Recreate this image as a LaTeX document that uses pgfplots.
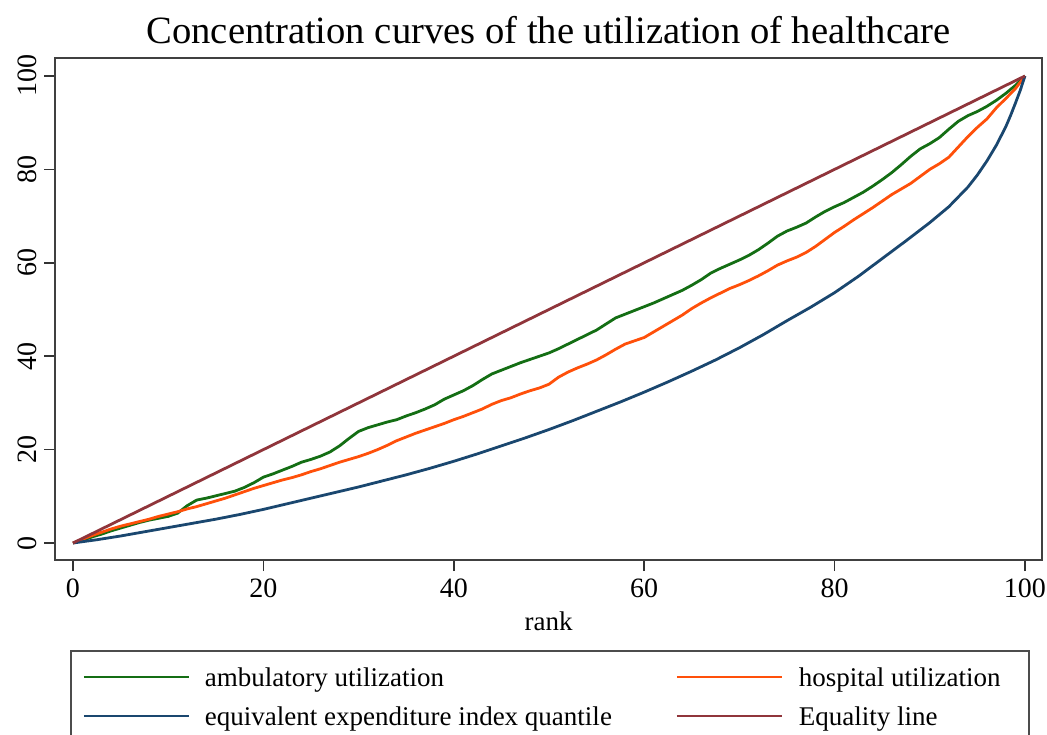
\documentclass[border=0pt]{standalone}
\usepackage{fontspec}
\setmainfont{Liberation Serif}
\usepackage{pgfplots}
\pgfplotsset{compat=1.18}

\definecolor{ambgreen}{RGB}{20,110,20}
\definecolor{hosporange}{RGB}{255,80,10}
\definecolor{statanavy}{RGB}{26,71,111}
\definecolor{statamaroon}{RGB}{144,53,59}

\begin{document}
\begin{tikzpicture}
\begin{axis}[
    width=493.5pt, height=251pt, scale only axis,
    xmin=-1.89, xmax=101.79,
    ymin=-3.64, ymax=103.85,
    axis line style={draw=black!75, line width=1pt},
    tick align=outside, tick pos=left,
    xtick={0,20,...,100}, ytick={0,20,...,100},
    major tick length=5.5pt,
    tick style={black!80, line width=0.8pt},
    ticklabel style={font=\fontsize{14}{16}\selectfont},
    /pgf/number format/assume math mode=true,
    xticklabel style={yshift=-0.5pt},
    yticklabel style={rotate=90, anchor=south},
    title={Concentration curves of the utilization of healthcare},
    title style={font=\fontsize{19.3}{22}\selectfont, at={(axis description cs:0.5,1)}, anchor=base, yshift=1pt},
    xlabel={rank},
    xlabel style={font=\fontsize{13.5}{16}\selectfont, at={(axis description cs:0.5,0)}, anchor=base, yshift=-35pt},
    legend columns=2,
    legend cell align=left,
    legend style={at={(0.0152,-0.1793)}, anchor=north west, draw=black!70, line width=0.8pt,
        inner xsep=6pt, inner ysep=4pt, column sep=0pt, row sep=0pt,
        nodes={inner sep=0pt, text height=14pt, text depth=5.5pt, font=\fontsize{13.5}{16}\selectfont}},
    legend image code/.code={\draw[#1, line width=1pt] (0pt,0.5pt) -- (52.5pt,0.5pt);},
    every axis plot/.append style={line width=1.4pt, line join=round},
]
% ambulatory utilization
\addplot[ambgreen] coordinates {
(0,0) (1,0.6) (2,1.3) (3,1.9) (4,2.6) (5,3.2) (6,3.8) (7,4.4) (8,4.9) (9,5.3)
(10,5.7) (11,6.4) (12,8.0) (13,9.2) (14,9.6) (15,10.1) (16,10.6) (17,11.1) (18,11.9) (19,12.9)
(20,14.1) (21,14.8) (22,15.6) (23,16.4) (24,17.3) (25,17.9) (26,18.6) (27,19.5) (28,20.8) (29,22.4)
(30,23.9) (31,24.7) (32,25.3) (33,25.9) (34,26.4) (35,27.2) (36,27.9) (37,28.7) (38,29.6) (39,30.8)
(40,31.7) (41,32.6) (42,33.7) (43,35.0) (44,36.2) (45,37.0) (46,37.8) (47,38.6) (48,39.3) (49,40.0)
(50,40.7) (51,41.6) (52,42.6) (53,43.6) (54,44.6) (55,45.6) (56,46.9) (57,48.2) (58,49.0) (59,49.8)
(60,50.6) (61,51.4) (62,52.3) (63,53.2) (64,54.1) (65,55.2) (66,56.4) (67,57.8) (68,58.8) (69,59.7)
(70,60.6) (71,61.6) (72,62.8) (73,64.2) (74,65.7) (75,66.8) (76,67.6) (77,68.5) (78,69.8) (79,71.0)
(80,72.0) (81,72.9) (82,74.0) (83,75.1) (84,76.4) (85,77.8) (86,79.3) (87,81.0) (88,82.8) (89,84.4)
(90,85.5) (91,86.8) (92,88.6) (93,90.3) (94,91.5) (95,92.4) (96,93.5) (97,94.8) (98,96.3) (99,98.0)
(100,100)};
\addlegendentry{\makebox[243pt][l]{\hspace{7.5pt}ambulatory utilization}}
% hospital utilization
\addplot[hosporange] coordinates {
(0,0) (1,0.8) (2,1.6) (3,2.3) (4,3.0) (5,3.6) (6,4.1) (7,4.6) (8,5.1) (9,5.7)
(10,6.2) (11,6.7) (12,7.3) (13,7.8) (14,8.4) (15,9.0) (16,9.6) (17,10.3) (18,11.0) (19,11.7)
(20,12.3) (21,12.9) (22,13.5) (23,14.0) (24,14.6) (25,15.3) (26,15.9) (27,16.6) (28,17.3) (29,17.9)
(30,18.5) (31,19.2) (32,20.0) (33,20.9) (34,21.9) (35,22.7) (36,23.5) (37,24.2) (38,24.9) (39,25.6)
(40,26.4) (41,27.1) (42,27.9) (43,28.7) (44,29.7) (45,30.5) (46,31.1) (47,31.9) (48,32.6) (49,33.2)
(50,34.0) (51,35.5) (52,36.6) (53,37.5) (54,38.3) (55,39.2) (56,40.3) (57,41.5) (58,42.6) (59,43.3)
(60,44.0) (61,45.2) (62,46.4) (63,47.6) (64,48.8) (65,50.2) (66,51.4) (67,52.5) (68,53.5) (69,54.5)
(70,55.3) (71,56.2) (72,57.2) (73,58.3) (74,59.5) (75,60.4) (76,61.2) (77,62.2) (78,63.5) (79,65.0)
(80,66.5) (81,67.8) (82,69.2) (83,70.5) (84,71.8) (85,73.2) (86,74.6) (87,75.8) (88,77.0) (89,78.5)
(90,80.0) (91,81.2) (92,82.6) (93,84.8) (94,87.0) (95,89.0) (96,90.8) (97,93.2) (98,95.2) (99,97.3)
(100,100)};
\addlegendentry{\makebox[117pt][l]{\hspace{8pt}hospital utilization}}
% equivalent expenditure index quantile
\addplot[statanavy] coordinates {
(0,0) (2.5,0.7) (5,1.5) (7.5,2.4) (10,3.3) (12.5,4.2) (15,5.1) (17.5,6.1) (20,7.2)
(22.5,8.4) (25,9.6) (27.5,10.8) (30,12.0) (32.5,13.3) (35,14.6) (37.5,16.0) (40,17.5)
(42.5,19.1) (45,20.8) (47.5,22.5) (50,24.3) (52.5,26.2) (55,28.2) (57.5,30.2) (60,32.3)
(62.5,34.5) (65,36.8) (67.5,39.2) (70,41.8) (72.5,44.6) (75,47.6) (77.5,50.5) (80,53.6)
(82.5,57.1) (85,60.9) (87.5,64.7) (90,68.6) (92,72.0) (94,76.2) (95,78.8) (96,81.8)
(97,85.2) (98,89.2) (98.5,91.6) (99,94.2) (99.5,96.9) (100,100)};
\addlegendentry{\makebox[243pt][l]{\hspace{7.5pt}equivalent expenditure index quantile}}
% equality line
\addplot[statamaroon] coordinates {(0,0) (100,100)};
\addlegendentry{\makebox[117pt][l]{\hspace{8pt}Equality line}}
\end{axis}
\pgfresetboundingbox
\useasboundingbox (-27.5pt,-87pt) rectangle (496pt,280pt);
\end{tikzpicture}
\end{document}
